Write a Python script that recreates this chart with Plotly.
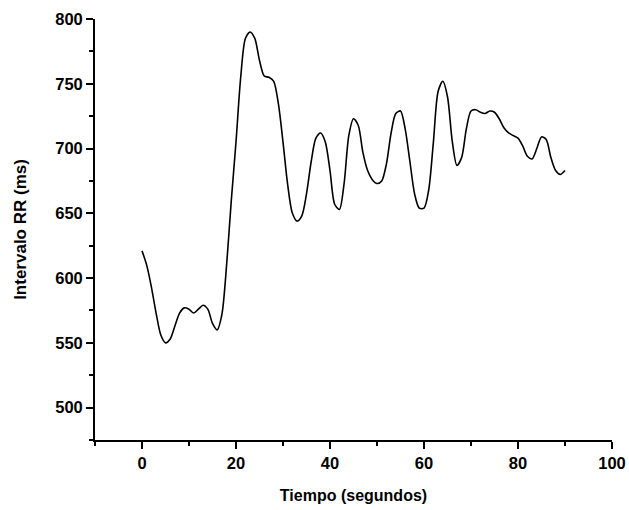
import plotly.graph_objects as go

tiempo = list(range(0, 91))
intervalo_rr = [
    621, 610, 593, 573, 556, 550, 553, 563, 573, 577,
    576, 573, 576, 579, 576, 565, 560, 572, 610, 660,
    705, 755, 785, 790, 785, 768, 756, 755, 752, 735,
    705, 672, 650, 644, 648, 665, 690, 708, 712, 705,
    683, 657, 653, 673, 710, 723, 718, 697, 683, 676,
    673, 675, 688, 712, 727, 729, 715, 690, 665, 654,
    654, 668, 705, 744, 752, 740, 706, 687, 693, 715,
    729, 730, 728, 727, 729, 728, 723, 716, 712, 710,
    708, 702, 694, 692, 700, 709, 707, 693, 683, 680,
    683,
]

x_ticks = [0, 20, 40, 60, 80, 100]
y_ticks = [500, 550, 600, 650, 700, 750, 800]

font_family = "Liberation Sans, Arial, sans-serif"

fig = go.Figure()
fig.add_trace(go.Scatter(
    x=tiempo, y=intervalo_rr, mode="lines",
    line=dict(color="black", width=1.6, shape="spline", smoothing=0.8),
    showlegend=False,
))

axis_common = dict(
    showgrid=False, zeroline=False, showline=True, linecolor="black", linewidth=1.8,
    ticks="outside", ticklen=7, tickwidth=1.6, tickcolor="black",
    tickfont=dict(family=font_family, size=16.5, color="black", weight="bold"),
    mirror=False,
)

fig.update_xaxes(
    range=[-10, 100], tickvals=x_ticks,
    minor=dict(dtick=10, tick0=0, ticklen=4, tickwidth=1.6, tickcolor="black", ticks="outside"),
    title=dict(text="Tiempo (segundos)", font=dict(family=font_family, size=16, color="black", weight="bold"), standoff=19),
    **axis_common,
)
fig.update_yaxes(
    range=[475, 800], tickvals=y_ticks,
    minor=dict(dtick=25, tick0=0, ticklen=4, tickwidth=1.6, tickcolor="black", ticks="outside"),
    title=dict(text="Intervalo RR (ms)", font=dict(family=font_family, size=17, color="black", weight="bold"), standoff=24),
    **axis_common,
)

fig.update_layout(
    width=629, height=510,
    margin=dict(l=95, r=17, t=19, b=70, autoexpand=False),
    plot_bgcolor="white", paper_bgcolor="white",
)

fig.write_html("out.html")
